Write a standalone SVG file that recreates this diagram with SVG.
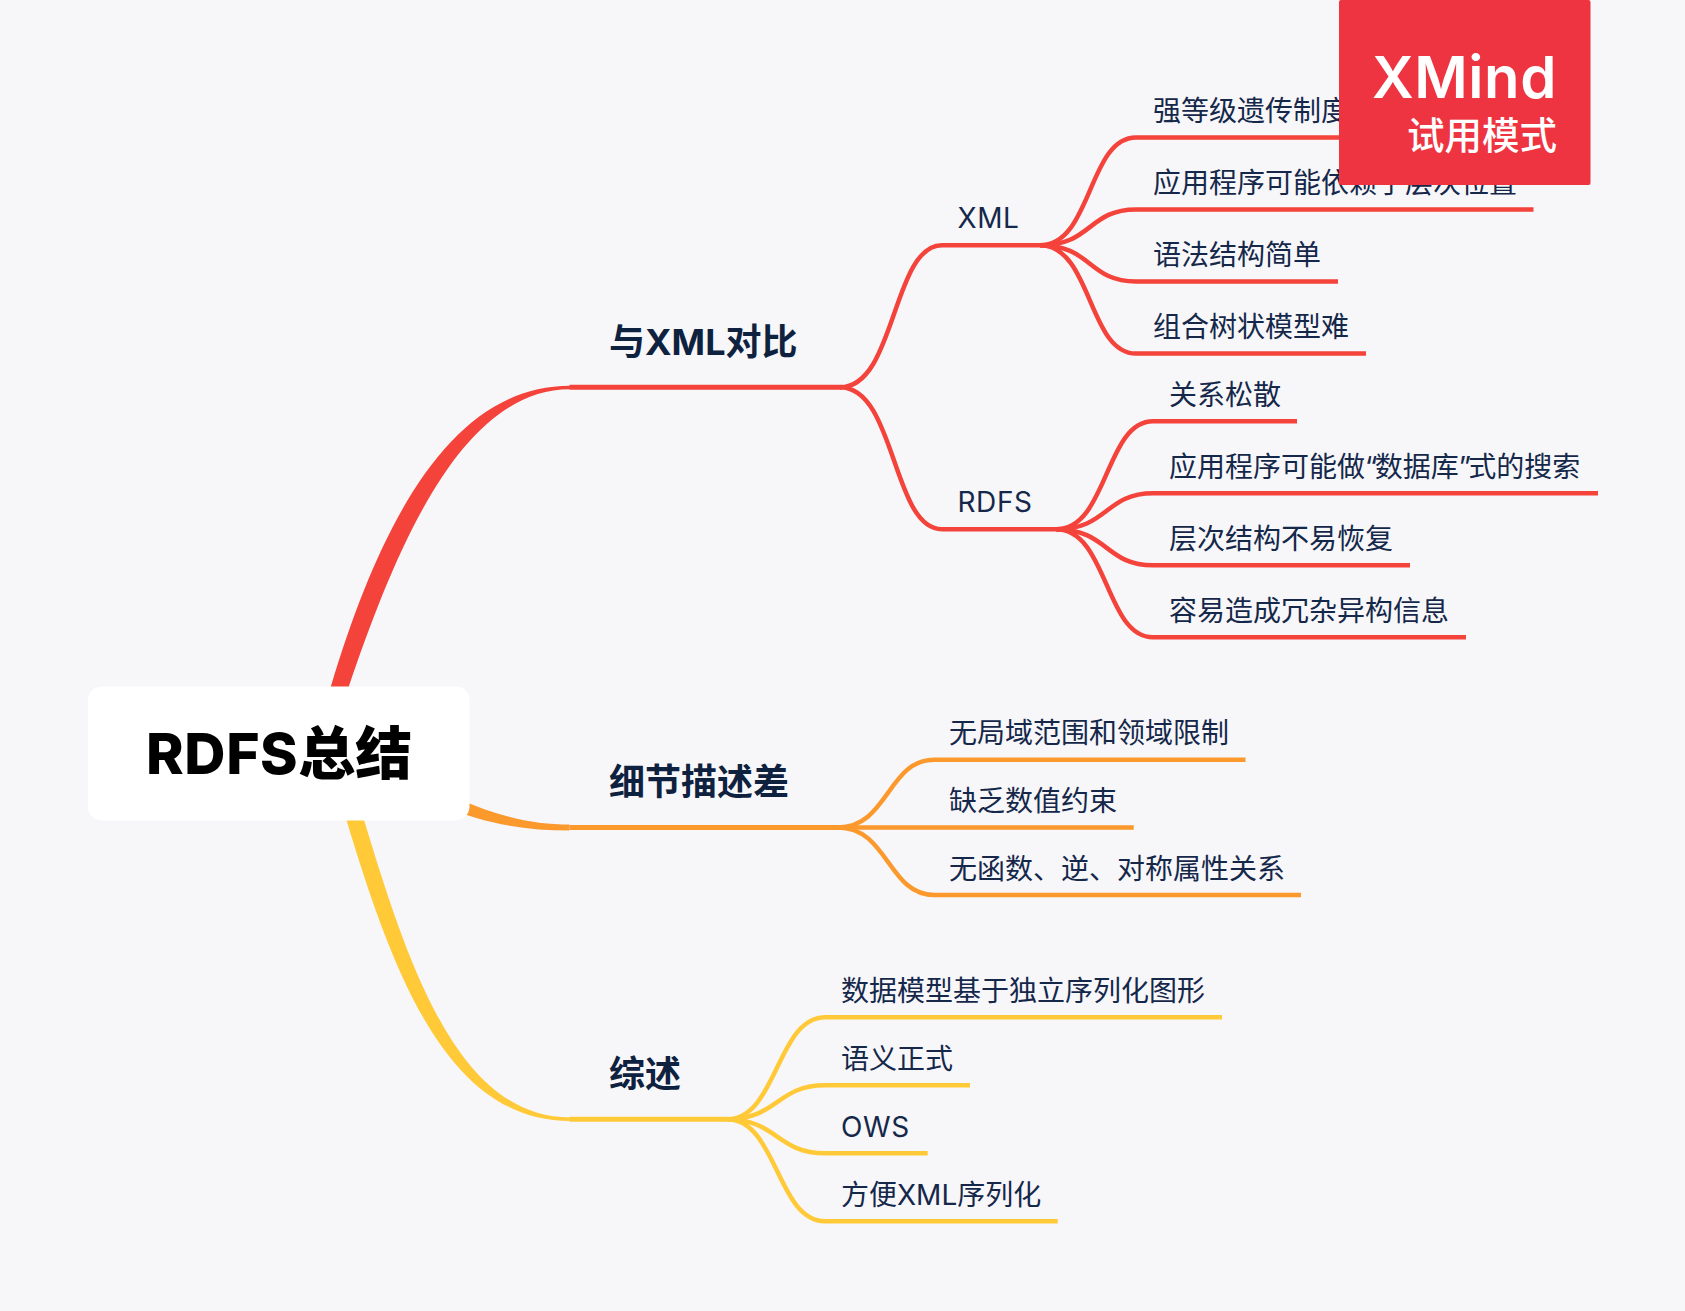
<svg xmlns="http://www.w3.org/2000/svg" width="1685" height="1311" viewBox="0 0 1685 1311">
<style>
text{font-family:"Inter","Noto Sans CJK SC",sans-serif;fill:#0E2240}
.leaf{font-size:28px;fill:#15284a}
.topic{font-size:36px;font-weight:700}
.ln{fill:none;stroke-width:4.5;stroke-linecap:butt}
.h{fill:none;stroke-width:5}
.r{stroke:#F4433A}.o{stroke:#FB992D}.y{stroke:#FFC938}
.lat{letter-spacing:.6px}
.q{letter-spacing:-2.7px}
</style>
<rect width="1685" height="1311" fill="#F7F7FA"/>
<g id="connectors">
<path fill="#F4433A" d="M329 692L331 686C378 530 448 385.7 570 385.7L570 389.3C462 389.3 397 545 349 686L347 692Z"/>
<path fill="#FB992D" d="M440 790C490 815 530 824.5 569.5 824.5L569.5 830.5C525 830.5 485 824 440 805Z"/>
<path fill="#FFC938" d="M345 815L346.7 820.7C394 977 448 1121 570 1121L570 1117.5C458 1117.5 408 965 364.3 820.7L362 815Z"/>
<path class="h r" d="M569.5 387.3H842"/>
<path class="h o" d="M569.5 827.4H840"/>
<path class="h y" d="M569.5 1119.3H729"/>
<g class="ln r">
<path d="M840 387.3C896 387.3 892 245.3 942 245.3H1040"/>
<path d="M840 387.3C896 387.3 892 529.3 942 529.3H1056"/>
<path d="M1040 245.3C1092 245.3 1088 137.5 1136 137.5H1400"/>
<path d="M1040 245.3C1092 245.3 1088 209.5 1136 209.5H1533.5"/>
<path d="M1040 245.3C1092 245.3 1088 281.5 1136 281.5H1338"/>
<path d="M1040 245.3C1092 245.3 1088 353.5 1136 353.5H1366"/>
<path d="M1056 529.3C1108 529.3 1105 421.3 1153 421.3H1297"/>
<path d="M1056 529.3C1108 529.3 1105 493.3 1153 493.3H1598"/>
<path d="M1056 529.3C1108 529.3 1105 565.3 1153 565.3H1410"/>
<path d="M1056 529.3C1108 529.3 1105 637.3 1153 637.3H1466"/>
</g>
<g class="ln o">
<path d="M838 827.4C888 827.4 888 759.7 934 759.7H1245.5"/>
<path d="M838 827.4H1133.7"/>
<path d="M838 827.4C888 827.4 888 895 934 895H1301"/>
</g>
<g class="ln y">
<path d="M727 1119.3C777 1119.3 777 1017.3 825 1017.3H1222"/>
<path d="M727 1119.3C777 1119.3 777 1085.3 825 1085.3H970"/>
<path d="M727 1119.3C777 1119.3 777 1153.3 825 1153.3H927.7"/>
<path d="M727 1119.3C777 1119.3 777 1221.3 825 1221.3H1057.7"/>
</g>
</g>
<g id="root"><rect x="88" y="686.5" width="381.5" height="134" rx="14" fill="#fff"/><text x="146" y="773.5" font-size="57" font-weight="800" style="fill:#000"><tspan letter-spacing=".6">RDFS</tspan><tspan>总结</tspan></text></g>
<g id="t1"><text class="topic" x="609" y="355">与<tspan>XML</tspan>对比</text></g>
<g id="t2"><text class="topic" x="609" y="795">细节描述差</text></g>
<g id="t3"><text class="topic" x="609" y="1087">综述</text></g>
<g id="n-xml"><text class="leaf lat" x="957.5" y="227.7">XML</text></g>
<g id="n-rdfs"><text class="leaf lat" x="957.5" y="511.7">RDFS</text></g>
<g id="x1"><text class="leaf" x="1153" y="121">强等级遗传制度</text></g>
<g id="x2"><text class="leaf" x="1153" y="193">应用程序可能依赖于层次位置</text></g>
<g id="x3"><text class="leaf" x="1153" y="265">语法结构简单</text></g>
<g id="x4"><text class="leaf" x="1153" y="337">组合树状模型难</text></g>
<g id="r1"><text class="leaf" x="1169" y="404.8">关系松散</text></g>
<g id="r2"><text class="leaf" x="1169" y="476.8">应用程序可能做<tspan class="q">“</tspan>数据库<tspan class="q">”</tspan>式的搜索</text></g>
<g id="r3"><text class="leaf" x="1169" y="548.8">层次结构不易恢复</text></g>
<g id="r4"><text class="leaf" x="1169" y="620.8">容易造成冗杂异构信息</text></g>
<g id="d1"><text class="leaf" x="949" y="743.2">无局域范围和领域限制</text></g>
<g id="d2"><text class="leaf" x="949" y="810.9">缺乏数值约束</text></g>
<g id="d3"><text class="leaf" x="949" y="878.5">无函数、逆、对称属性关系</text></g>
<g id="s1"><text class="leaf" x="841" y="1000.8">数据模型基于独立序列化图形</text></g>
<g id="s2"><text class="leaf" x="841" y="1068.8">语义正式</text></g>
<g id="s3"><text class="leaf lat" x="841" y="1136.8">OWS</text></g>
<g id="s4"><text class="leaf" x="841" y="1204.8">方便<tspan>XML</tspan>序列化</text></g>
<g id="logo"><rect x="1339" y="0" width="251.5" height="185" rx="2" fill="#EE3440"/><text x="1557" y="98" text-anchor="end" font-size="58" font-weight="600" letter-spacing=".6" style="fill:#fff">XMind</text><text x="1557" y="149" text-anchor="end" font-size="37.5" font-weight="500" style="fill:#fff">试用模式</text></g>
</svg>
